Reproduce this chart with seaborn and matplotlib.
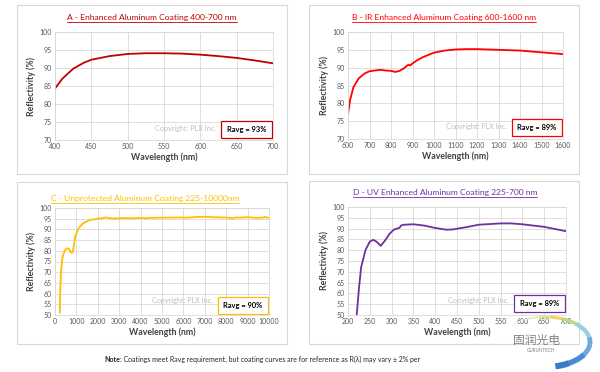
import matplotlib
matplotlib.use("Agg")
import matplotlib.pyplot as plt
import seaborn as sns
import pandas as pd
from matplotlib.patches import Rectangle, Arc

sns.set_style("white")
plt.rcParams['font.family'] = ['Lato', 'Noto Sans CJK SC', 'DejaVu Sans']

# ---------- data ----------
a_wl = [400, 410, 425, 440, 450, 475, 500, 525, 550, 575, 600, 625, 650, 675, 700]
a_r = [84.3, 87.0, 89.8, 91.5, 92.3, 93.3, 93.9, 94.1, 94.1, 94.0, 93.7, 93.3, 92.8, 92.1, 91.3]

b_wl = [600, 610, 625, 650, 675, 700, 725, 750, 775, 800, 820, 840, 860, 875, 882, 890, 900, 925, 950,
        1000, 1050, 1100, 1150, 1200, 1300, 1400, 1500, 1600]
b_r = [77.0, 81.0, 84.5, 87.0, 88.3, 89.0, 89.2, 89.4, 89.2, 89.1, 88.8, 89.1, 89.8, 90.6, 90.8, 90.6,
       91.2, 92.2, 93.0, 94.2, 94.8, 95.1, 95.2, 95.2, 95.0, 94.8, 94.3, 93.8]

c_wl = [225, 240, 280, 350, 450, 550, 650, 720, 800, 850, 950, 1100, 1300, 1600, 2000, 2200, 2400, 2500,
        2700, 3000, 3300, 3600, 4000, 4200, 4250, 4300, 4600, 5000, 5400, 5800, 6200, 6600, 7000, 7400,
        7800, 8200, 8300, 8400, 8800, 9000, 9400, 9700, 9800, 10000]
c_r = [51.0, 60.0, 70.0, 77.0, 80.0, 81.2, 81.0, 79.5, 79.0, 80.5, 87.0, 90.5, 92.8, 94.3, 95.0, 95.2, 95.6,
       95.3, 95.1, 95.2, 95.3, 95.2, 95.4, 95.3, 94.8, 95.4, 95.4, 95.5, 95.5, 95.6, 95.5, 95.8, 95.9, 95.7,
       95.6, 95.4, 95.0, 95.5, 95.6, 95.7, 95.4, 95.5, 95.8, 95.4]

d_wl = [220, 225, 230, 240, 250, 258, 265, 275, 285, 295, 305, 315, 318, 322, 330, 350, 375, 400, 425,
        440, 475, 500, 550, 575, 600, 650, 700]
d_r = [50.0, 62.0, 72.0, 80.0, 84.0, 84.8, 84.0, 82.0, 84.5, 87.5, 89.5, 90.2, 90.3, 91.5, 91.8, 92.0,
       91.4, 90.3, 89.5, 89.6, 90.8, 91.8, 92.4, 92.4, 92.0, 90.8, 88.8]

titles = ["A - Enhanced Aluminum Coating 400-700 nm",
          "B - IR Enhanced Aluminum Coating 600-1600 nm",
          "C - Unprotected Aluminum Coating 225-10000nm",
          "D - UV Enhanced Aluminum Coating 225-700 nm"]
ravg = ["Ravg = 93%", "Ravg = 89%", "Ravg = 90%", "Ravg = 89%"]
colors = ["#C00000", "#FF0000", "#FFC000", "#7030A0"]
xlims = [(400, 700, 50), (600, 1600, 100), (0, 10000, 1000), (200, 700, 50)]
ylims = [(70, 100), (70, 100), (50, 100), (50, 100)]

W, H = 600, 372
fig = plt.figure(figsize=(6, 3.72), dpi=100)

def fx(px):
    return px / W

def fy(py):
    return 1 - py / H

# panel frames (pixel coords: left, top, right, bottom)
panels = [(17, 5, 287, 174), (309, 5, 579, 174), (17, 182, 287, 344), (309, 181, 579, 344)]
for (l, t, r, b) in panels:
    fig.patches.append(Rectangle((fx(l), fy(b)), fx(r - l), (b - t) / H, transform=fig.transFigure,
                                 facecolor="white", edgecolor="#D9D9D9", lw=0.8, zorder=-5))

axes_px = [(55, 32, 273, 140), (348, 32, 563, 139), (55, 208, 269, 315), (348, 207, 566, 315)]
title_pos = [(152, 17), (444, 17), (145, 198), (445, 192)]
datasets = [(a_wl, a_r), (b_wl, b_r), (c_wl, c_r), (d_wl, d_r)]
copy_y = [0.11, 0.12, 0.14, 0.13]
box_y = [0.02, 0.03, 0.01, 0.03]

fig.canvas.draw()
renderer = fig.canvas.get_renderer()

for i in range(4):
    l, t, r, b = axes_px[i]
    ax = fig.add_axes([fx(l), fy(b), (r - l) / W, (b - t) / H])
    ax.patch.set_alpha(0)
    df = pd.DataFrame({"wl": datasets[i][0], "R": datasets[i][1]})
    sns.lineplot(data=df, x="wl", y="R", ax=ax, color=colors[i], lw=1.3)
    x0, x1, xs = xlims[i]
    y0, y1 = ylims[i]
    ax.set_xlim(x0, x1)
    ax.set_ylim(y0, y1)
    ax.set_xticks(list(range(x0, x1 + 1, xs)))
    ax.set_yticks(list(range(y0, y1 + 1, 5)))
    ax.grid(True, color="#D9D9D9", lw=0.6)
    for s in ax.spines.values():
        s.set_color("#D9D9D9")
        s.set_linewidth(0.6)
    ax.tick_params(labelsize=5, colors="#595959", length=0, pad=2)
    ax.set_xlabel("Wavelength (nm)", fontsize=6.3, fontweight="bold", color="#404040", labelpad=2)
    ax.set_ylabel("Reflectivity (%)", fontsize=6.3, fontweight="bold", color="#404040", labelpad=3)
    tx, ty = title_pos[i]
    tt = fig.text(fx(tx), fy(ty + 3), titles[i], color=colors[i], fontsize=6.1,
                  ha="center", va="baseline")
    bb = tt.get_window_extent(renderer).transformed(fig.transFigure.inverted())
    fig.lines.append(plt.Line2D([bb.x0, bb.x1], [fy(ty + 4.6), fy(ty + 4.6)], transform=fig.transFigure,
                                color=colors[i], lw=0.6))
    # Ravg box
    aw = r - l
    bx = 0.762
    ax.add_patch(Rectangle((bx, box_y[i]), 0.232, 0.155, transform=ax.transAxes, facecolor="white",
                           edgecolor=colors[i], lw=0.9, zorder=5))
    ax.text(bx + 0.116, box_y[i] + 0.0775, ravg[i], transform=ax.transAxes, ha="center", va="center",
            fontsize=5.4, fontweight="bold", color="black", zorder=6)
    ax.text(bx - 5.0 / aw, copy_y[i], "Copyright: PLX Inc.", transform=ax.transAxes, ha="right",
            va="center", fontsize=5.2, color="#BFBFBF", zorder=4)

# note
note_b = fig.text(fx(104), fy(359), "Note", ha="left", va="center", fontsize=5.0, fontweight="bold",
                  color="#262626")
bbn = note_b.get_window_extent(renderer).transformed(fig.transFigure.inverted())
fig.text(bbn.x1, fy(359), ": Coatings meet Ravg requirement, but coating curves are for reference as R(λ) may vary ± 2% per",
         ha="left", va="center", fontsize=5.0, color="#262626")

# logo (pixel-like coordinates: x = px - 480, y = 372 - py)
logo_ax = fig.add_axes([fx(480), fy(372), 120 / W, 72 / H])
logo_ax.set_xlim(0, 120)
logo_ax.set_ylim(0, 72)
logo_ax.axis("off")
arc_cols = ["#EEF3E0", "#DDEBB0", "#E8E27A", "#F2D36A", "#B9D98A", "#9CCDE0", "#6FA8DC", "#4A8AD4", "#3A78C8"]
start = 150
for k, c in enumerate(arc_cols):
    t2 = start - k * 24
    t1 = t2 - 25
    logo_ax.add_patch(Arc((65, 30), 90, 50, theta1=t1, theta2=t2, color=c, lw=0.8 + k * 0.45))
logo_ax.text(57, 32, "固润光电", ha="center", va="center", fontsize=8.5, color="#808080",
             family=["Noto Sans CJK SC"])
logo_ax.text(61, 21, "GURUNTECH", ha="center", va="center", fontsize=3.3, color="#808080")

fig.savefig("out.png", dpi=100)
